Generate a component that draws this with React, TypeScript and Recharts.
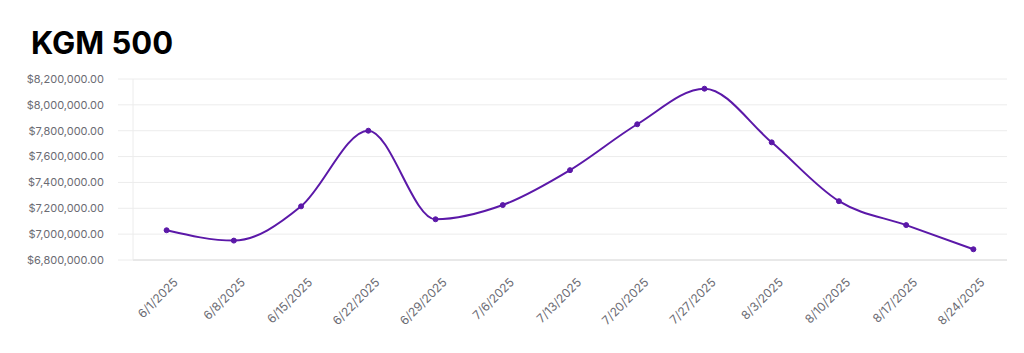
import React from 'react';
import { LineChart, Line, XAxis, YAxis, CartesianGrid } from 'recharts';

const dates = [
  '6/1/2025', '6/8/2025', '6/15/2025', '6/22/2025', '6/29/2025', '7/6/2025', '7/13/2025',
  '7/20/2025', '7/27/2025', '8/3/2025', '8/10/2025', '8/17/2025', '8/24/2025',
];
const prices = [
  7030000, 6950000, 7215000, 7800000, 7115000, 7225000, 7495000,
  7850000, 8125000, 7710000, 7255000, 7070000, 6883000,
];
const yTicks = [6800000, 7000000, 7200000, 7400000, 7600000, 7800000, 8000000, 8200000];

const data = dates.map((name, i) => ({ name, value: prices[i] }));

const money = (v: number) =>
  '$' + v.toLocaleString('en-US', { minimumFractionDigits: 2, maximumFractionDigits: 2 });

const DateTick = (props: any) => {
  const { x, y, payload } = props;
  return (
    <g transform={`translate(${x + 6},${y + 17})`}>
      <text
        x={0}
        y={0}
        dy="0.72em"
        textAnchor="end"
        transform="rotate(-45)"
        fill="#6b6b73"
        fontSize={12}
        fontFamily="Inter, sans-serif"
      >
        {payload.value}
      </text>
    </g>
  );
};

export default function App() {
  return (
    <div
      style={{
        position: 'absolute',
        top: 0,
        left: 0,
        width: 1024,
        height: 353,
        background: '#fff',
        fontFamily: 'Inter, sans-serif',
      }}
    >
      <div
        style={{
          position: 'absolute',
          left: 31,
          top: 28,
          fontSize: 31,
          lineHeight: '30px',
          fontWeight: 700,
          color: '#000',
        }}
      >
        KGM 500
      </div>
      <LineChart
        width={1024}
        height={353}
        data={data}
        margin={{ top: 79, right: 17, bottom: 13, left: 0 }}
      >
        <CartesianGrid vertical={false} stroke="#ececec" />
        <XAxis
          dataKey="name"
          height={80}
          interval={0}
          padding={{ left: 33.6, right: 33.6 }}
          axisLine={{ stroke: '#dcdcdc' }}
          tickLine={false}
          tickSize={0}
          tickMargin={0}
          tick={<DateTick />}
        />
        <YAxis
          width={133}
          domain={[6800000, 8200000]}
          ticks={yTicks}
          interval={0}
          tickFormatter={money}
          axisLine={{ stroke: '#ececec' }}
          tickLine={{ stroke: '#ececec' }}
          tickSize={15}
          tickMargin={14}
          tick={{ fill: '#6b6b73', fontSize: 11, fontFamily: 'Inter, sans-serif' }}
        />
        <Line
          type="monotone"
          dataKey="value"
          stroke="#5b18a8"
          strokeWidth={2}
          dot={{ r: 2.5, fill: '#5b18a8', stroke: '#5b18a8', strokeWidth: 1 }}
          activeDot={false}
          isAnimationActive={false}
        />
      </LineChart>
    </div>
  );
}
